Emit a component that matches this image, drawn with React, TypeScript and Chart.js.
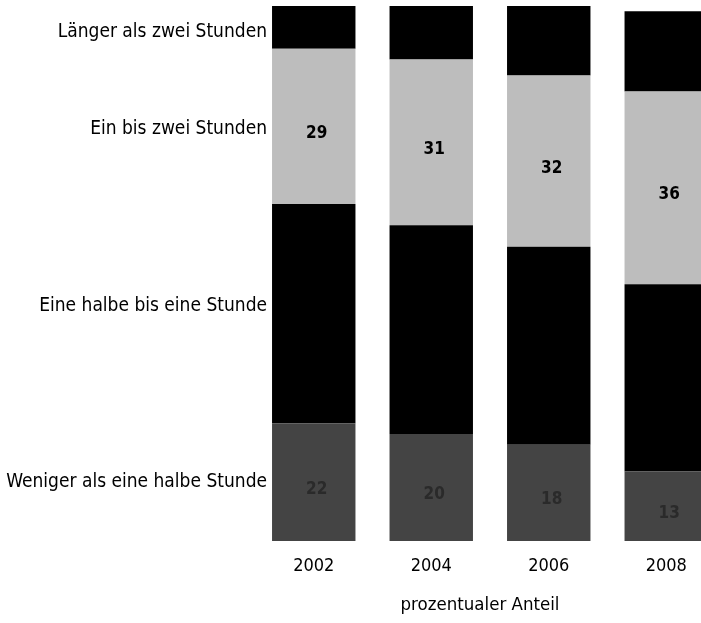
import React, { useEffect, useRef } from "react";
import { Chart, registerables } from "chart.js";

Chart.register(...registerables);

const years = ["2002", "2004", "2006", "2008"];
const seriesNames = [
  "Weniger als eine halbe Stunde",
  "Eine halbe bis eine Stunde",
  "Ein bis zwei Stunden",
  "Länger als zwei Stunden",
];
const wenigerHalbe = [22, 20, 18, 13];
const halbeBisEine = [41, 39, 37, 35];
const einBisZwei = [29, 31, 32, 36];
const laengerZwei = [8, 10, 13, 15];
const axisTitle = "prozentualer Anteil";

const FONT = "'DejaVu Sans Condensed', 'DejaVu Sans', sans-serif";
const colors = ["#444444", "#000000", "#bdbdbd", "#000000"];
const labelColors = ["#2a2a2a", "#000000", "#000000", "#000000"];
const nameOffsets = [0, -8, 3, 5];

const overlay = {
  id: "overlay",
  afterDatasetsDraw(chart: any) {
    const ctx = chart.ctx;
    ctx.save();
    ctx.font = `19px ${FONT}`;
    ctx.fillStyle = "#000";
    ctx.textAlign = "right";
    ctx.textBaseline = "middle";
    chart.data.datasets.forEach((ds: any, i: number) => {
      const meta = chart.getDatasetMeta(i);
      const el = meta.data[0];
      const mid = (el.y + el.base) / 2;
      ctx.fillText(ds.label, 267, mid + nameOffsets[i]);
    });
    ctx.font = `bold 17px ${FONT}`;
    ctx.textAlign = "center";
    chart.data.datasets.forEach((ds: any, i: number) => {
      const meta = chart.getDatasetMeta(i);
      meta.data.forEach((el: any, j: number) => {
        ctx.fillStyle = labelColors[i];
        const mid = (el.y + el.base) / 2;
        ctx.fillText(String(ds.data[j]), el.x + 3, mid + 7);
      });
    });
    ctx.font = `18.5px ${FONT}`;
    ctx.fillStyle = "#000";
    ctx.fillText(axisTitle, 480, 605);
    ctx.restore();
  },
};

export default function App() {
  const ref = useRef<HTMLCanvasElement | null>(null);
  useEffect(() => {
    if (!ref.current) return;
    const seriesValues = [wenigerHalbe, halbeBisEine, einBisZwei, laengerZwei];
    const chart = new Chart(ref.current, {
      type: "bar",
      data: {
        labels: years,
        datasets: seriesValues.map((d, i) => ({
          label: seriesNames[i],
          data: d,
          backgroundColor: colors[i],
          borderWidth: 0,
          barPercentage: 0.71,
          categoryPercentage: 1,
        })),
      },
      options: {
        responsive: false,
        animation: false,
        layout: { padding: { left: 255, right: 15, top: 6, bottom: 0 } },
        plugins: { legend: { display: false }, tooltip: { enabled: false } },
        scales: {
          x: {
            stacked: true,
            grid: { display: false },
            border: { display: false },
            ticks: {
              color: "#000",
              font: { family: FONT, size: 18 },
              padding: 7,
            },
            afterFit: (s: any) => {
              s.height = 82;
            },
          },
          y: {
            stacked: true,
            display: false,
            min: 0,
            max: 100,
          },
        },
      },
      plugins: [overlay],
    });
    return () => chart.destroy();
  }, []);
  return (
    <div
      style={{
        position: "fixed",
        left: 0,
        top: 0,
        width: 701,
        height: 623,
        overflow: "hidden",
        background: "#fff",
      }}
    >
      <canvas ref={ref} width={740} height={623} style={{ display: "block" }} />
    </div>
  );
}
